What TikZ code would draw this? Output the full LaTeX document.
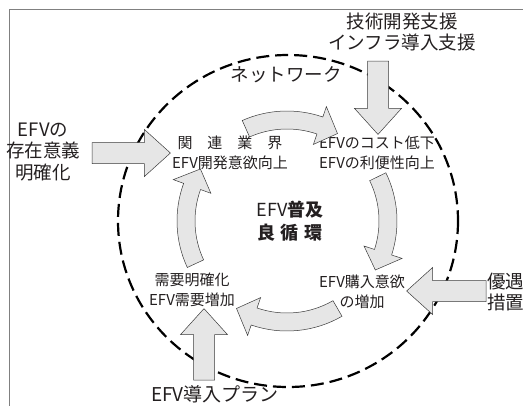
\documentclass[tikz,border=0pt]{standalone}
\usepackage{fontspec}
\setmainfont{Noto Sans CJK JP}
\usepackage{tikz}
\usetikzlibrary{calc}

\definecolor{arrowfill}{HTML}{E6E6E6}
\definecolor{arrowline}{HTML}{3A3A3A}
\definecolor{framegray}{HTML}{808080}
\definecolor{textcol}{HTML}{231F20}

\tikzset{
  outer/.style={align=center, inner sep=0pt, text=textcol, font=\fontsize{18.5}{21.5}\selectfont},
  inner/.style={align=center, inner sep=1.5pt, text=textcol, font=\fontsize{15}{20}\selectfont},
  network/.style={draw=black, line width=2.2pt, dash pattern=on 13pt off 6pt},
  cycarrow/.style={draw=arrowline, fill=arrowfill, line width=0.5pt},
  bigarrow/.style={draw=arrowline, fill=arrowfill, line width=0.5pt,
    to path={let \p1=(\tikztostart), \p2=(\tikztotarget),
      \n1={atan2(\y2-\y1,\x2-\x1)}, \n2={veclen(\x2-\x1,\y2-\y1)} in
      [shift={(\p1)}, rotate=\n1]
      (0,-10.5) -- (\n2-26,-10.5) -- (\n2-26,-23.5) -- (\n2,0)
      -- (\n2-26,23.5) -- (\n2-26,10.5) -- (0,10.5) -- cycle}}
}

% curved arrow of the cycle: tail angle, tip angle
\newcommand\cyclearrow[2]{%
  \pgfmathsetmacro\headbase{#2+11}
  \filldraw[cycarrow] ([shift={(cyc)}]#1:110pt) arc[start angle=#1, end angle=\headbase, radius=110pt]
    -- ([shift={(cyc)}]\headbase:121pt) -- ([shift={(cyc)}]#2:101pt)
    -- ([shift={(cyc)}]\headbase:81pt) -- ([shift={(cyc)}]\headbase:92pt)
    arc[start angle=\headbase, end angle=#1, radius=92pt] -- cycle;}

\begin{document}
\begin{tikzpicture}[x=1pt, y=-1pt]
    \useasboundingbox (0,0) rectangle (523,405);
    \clip (0,0) rectangle (523,405);
    \draw[framegray, line width=0.8pt] (9,9) rectangle (560,440);

    \coordinate (ring) at (288,221);
    \coordinate (cyc)  at (287,221);
    \draw[network] (ring) ellipse[x radius=170, y radius=166];

    \node[outer](tech)     at (402,32)  {技術開発支援\\インフラ導入支援};
    \node[outer](net)      at (286,75)  {ネットワーク};
    \node[outer](purpose)  at (43,152)  {EFVの\\存在意義\\明確化};
    \node[outer, anchor=west](pref) at (487,292) {優遇\\措置};
    \node[outer, font=\fontsize{19}{21}\selectfont](plan) at (215,394) {EFV導入プラン};

    \node[inner](industry) at (230,153) {関\quad 連\quad 業\quad 界\\EFV開発意欲向上};
    \node[inner](cost)     at (377,153) {EFVのコスト低下\\EFVの利便性向上};
    \node[inner](purchase) at (362,292) {EFV購入意欲\\の増加};
    \node[inner](demand)   at (192,290) {需要明確化\\EFV需要増加};
    \node[align=center, text=textcol, font=\fontsize{18}{23}\selectfont](loop) at (290,221)
        {EFV{\bfseries 普及}\\{\bfseries 良\hspace{0.3em}循\hspace{0.3em}環}};

    \cyclearrow{114}{60}
    \cyclearrow{26}{-29}
    \cyclearrow{-60}{-120}
    \cyclearrow{205}{149}

    \coordinate (purposeend) at (92,153);
    \coordinate (techend)    at (378,61);
    \coordinate (prefend)    at (486,291);
    \coordinate (planend)    at (204,380);
    \path
        (purposeend) edge [bigarrow] (industry.west |- purposeend)
        (techend)    edge [bigarrow] (cost.north -| techend)
        (prefend)    edge [bigarrow] (purchase.east |- prefend)
        (planend)    edge [bigarrow] (demand.south -| planend)
        ;
\end{tikzpicture}
\end{document}
